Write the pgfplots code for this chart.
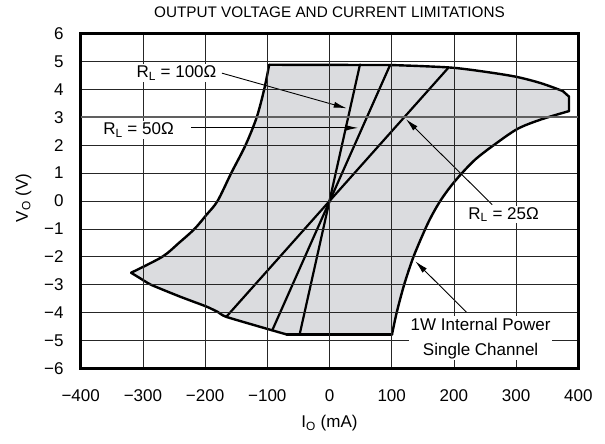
\documentclass[border=0pt]{standalone}
\usepackage{fontspec}
\setmainfont{Liberation Sans}
\usepackage{pgfplots}
\pgfplotsset{compat=1.18}
\usetikzlibrary{arrows.meta}
\definecolor{envfill}{RGB}{219,220,223}

\begin{document}
\begin{tikzpicture}[x=1pt,y=1pt]
\begin{axis}[
    scale only axis, width=497.6pt, height=335pt,
    at={(0,0)}, anchor=south west,
    xmin=-400, xmax=400, ymin=-6, ymax=6,
    xtick={-400,-300,...,400}, ytick={-6,-5,...,6},
    xticklabels={−400,−300,−200,−100,0,100,200,300,400},
    yticklabels={−6,−5,−4,−3,−2,−1,0,1,2,3,4,5,6},
    grid=major, major grid style={black!85, line width=0.7pt},
    major tick length=0pt,
    axis line style={line width=2.5pt},
    axis on top,
    tick label style={font=\fontsize{17}{20}\selectfont},
    xticklabel style={anchor=center, yshift=-27pt},
    yticklabel style={anchor=east, inner sep=0pt, xshift=-17pt},
    extra y ticks={3}, extra y tick labels={},
    extra y tick style={major grid style={gray!75!black, line width=1.6pt}},
    title={OUTPUT VOLTAGE AND CURRENT LIMITATIONS},
    every axis title shift=0pt,
    title style={font=\fontsize{15.3}{18}\selectfont, at={(axis description cs:0.5,1.064)}, anchor=center},
    xlabel={I\textsubscript{O} (mA)},
    xlabel style={font=\fontsize{17}{20}\selectfont, at={(axis description cs:0.5,-0.163)}, anchor=center},
    ylabel={V\textsubscript{O} (V)},
    ylabel style={font=\fontsize{17}{20}\selectfont, at={(axis description cs:-0.115,0.509)}, anchor=center},
    every axis plot/.append style={line cap=round, line join=round},
]
% operating envelope (fill)
\addplot[draw=none, fill=envfill] coordinates {
    (-97,4.88) (0,4.88) (100,4.87) (150,4.83) (200,4.77) (250,4.63) (300,4.45)
    (340,4.22) (375,3.94) (385,3.74) (385,3.22) (340,2.92) (302,2.58) (264,2.0)
    (235,1.5) (213,1.0) (194,0.5) (178,0) (165,-0.5) (154,-1) (135,-2) (120,-3)
    (108,-4) (100.5,-4.78) (-69,-4.78) (-91,-4.64) (-166,-4.15) (-180,-3.97)
    (-198,-3.78) (-241,-3.42) (-287,-3.0) (-305,-2.76) (-319,-2.57) (-269,-2)
    (-242,-1.5) (-217,-1) (-198,-0.5) (-180,0) (-158,1) (-135,2) (-117,3) (-105,4)
} -- cycle;
% envelope outline
\addplot[black, line width=2.4pt] coordinates {(-97,4.88) (100,4.87)};
\addplot[black, line width=2.4pt, smooth, tension=0.5] coordinates {
    (100,4.87) (150,4.83) (200,4.77) (250,4.63) (300,4.45) (340,4.22) (375,3.94)};
\addplot[black, line width=2.4pt] coordinates {(375,3.94) (385,3.74) (385,3.22)};
\addplot[black, line width=2.4pt, smooth, tension=0.5] coordinates {
    (385,3.22) (340,2.92) (302,2.58) (264,2.0) (235,1.5) (213,1.0) (194,0.5)
    (178,0) (165,-0.5) (154,-1) (135,-2) (120,-3) (108,-4) (100.5,-4.78)};
\addplot[black, line width=2.4pt] coordinates {(100.5,-4.78) (-69,-4.78)};
\addplot[black, line width=2.4pt, smooth, tension=0.3] coordinates {
    (-69,-4.78) (-91,-4.64) (-166,-4.15) (-180,-3.97) (-198,-3.78) (-241,-3.42)
    (-287,-3.0) (-305,-2.76) (-319,-2.57)};
\addplot[black, line width=2.4pt, smooth, tension=0.5] coordinates {
    (-319,-2.57) (-269,-2) (-242,-1.5) (-217,-1) (-198,-0.5) (-180,0) (-158,1)
    (-135,2) (-117,3) (-105,4) (-97,4.88)};
% load lines
\addplot[black, line width=2.2pt] coordinates {(-166,-4.15) (191,4.77)};
\addplot[black, line width=2.2pt] coordinates {(-92,-4.63) (97.6,4.88)};
\addplot[black, line width=2.2pt] coordinates {(-48,-4.78) (49,4.89)};
% callout arrows
\draw[line width=0.9pt, -{Latex[length=13pt,width=6pt]}] (axis cs:-173,4.58) -- (axis cs:27.7,3.32);
\draw[line width=0.9pt, -{Latex[length=13pt,width=6pt]}] (axis cs:-222,2.62) -- (axis cs:46,2.62);
\draw[line width=0.9pt, -{Latex[length=13pt,width=6pt]}] (axis cs:261.6,-0.13) -- (axis cs:123,2.93);
\draw[line width=0.9pt, -{Latex[length=13pt,width=6pt]}] (axis cs:221,-4.0) -- (axis cs:138,-2.16);
\coordinate (t100) at (axis cs:-246,4.59);
\coordinate (t50) at (axis cs:-307,2.55);
\coordinate (t25) at (axis cs:280,-0.48);
\coordinate (tpw) at (axis cs:243,-4.92);
\end{axis}
\begin{scope}[every node/.style={fill=white, inner sep=1.5pt, font=\fontsize{17}{25}\selectfont}]
\node at (t100) {R\textsubscript{L} = 100Ω};
\node at (t50) {R\textsubscript{L} = 50Ω};
\node at (t25) {R\textsubscript{L} = 25Ω};
\node[align=center] at (tpw) {1W Internal Power\\Single Channel};
\end{scope}
\pgfresetboundingbox
\path[use as bounding box] (-80.7,-75.5) rectangle (524.3,368.5);
\end{tikzpicture}
\end{document}
